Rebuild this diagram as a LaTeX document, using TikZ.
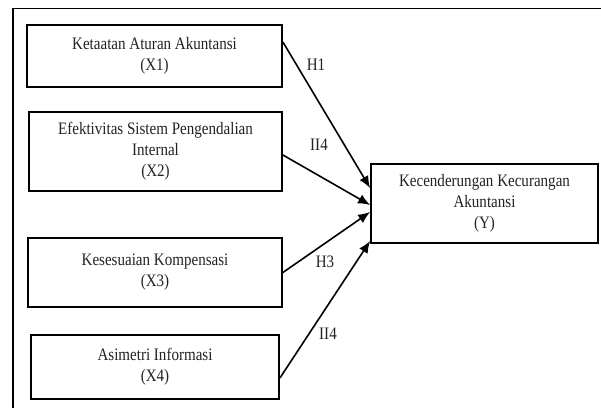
\documentclass[tikz,border=0pt]{standalone}
\usepackage{fontspec}
\setmainfont{Liberation Serif}[FakeStretch=0.86]
\usetikzlibrary{arrows.meta}
\definecolor{textgray}{HTML}{222222}

\tikzset{
  varbox/.style={draw, line width=1.8pt, align=center, inner sep=0pt, text=textgray,
    font=\fontsize{17.5}{21}\selectfont},
  hlabel/.style={text=textgray, font=\fontsize{17.5}{21}\selectfont},
  patharrow/.style={line width=1.6pt, -{Latex[length=12pt,width=10pt]}}
}

\begin{document}
\begin{tikzpicture}[x=1pt,y=-1pt]
\useasboundingbox (0,0) rectangle (601,408);
% outer frame
\draw[line width=1.2pt] (601,8.5) -- (13,8.5) -- (13,408);

% independent variables
\node[varbox, minimum width=255pt, minimum height=62pt] (x1) at (154.5,56) {Ketaatan Aturan Akuntansi\\(X1)};
\node[varbox, minimum width=253pt, minimum height=79pt] (x2) at (155.5,151.5) {Efektivitas Sistem Pengendalian\\Internal\\(X2)};
\node[varbox, minimum width=254pt, minimum height=69pt] (x3) at (155,272.5) {Kesesuaian Kompensasi\\(X3)};
\node[varbox, minimum width=248pt, minimum height=64pt] (x4) at (155,367) {Asimetri Informasi\\(X4)};

% dependent variable
\node[varbox, minimum width=227pt, minimum height=79pt] (y) at (484.5,203.5) {Kecenderungan Kecurangan\\Akuntansi\\(Y)};

% hypotheses
\draw[patharrow] ([yshift=14pt]x1.east) -- ([yshift=15.5pt]y.west);
\draw[patharrow] ([yshift=-3.5pt]x2.east) -- ([yshift=-1.5pt]y.west);
\draw[patharrow] (x3.east) -- ([yshift=-8.5pt]y.west);
\draw[patharrow] ([yshift=-11pt]x4.east) -- ([yshift=-37.5pt]y.west);

\node[hlabel] (h1) at (316,65) {H1};
\node[hlabel] (h2) at (319,145) {II4};
\node[hlabel] (h3) at (325,262) {H3};
\node[hlabel] (h4) at (328,334) {II4};
\end{tikzpicture}
\end{document}
